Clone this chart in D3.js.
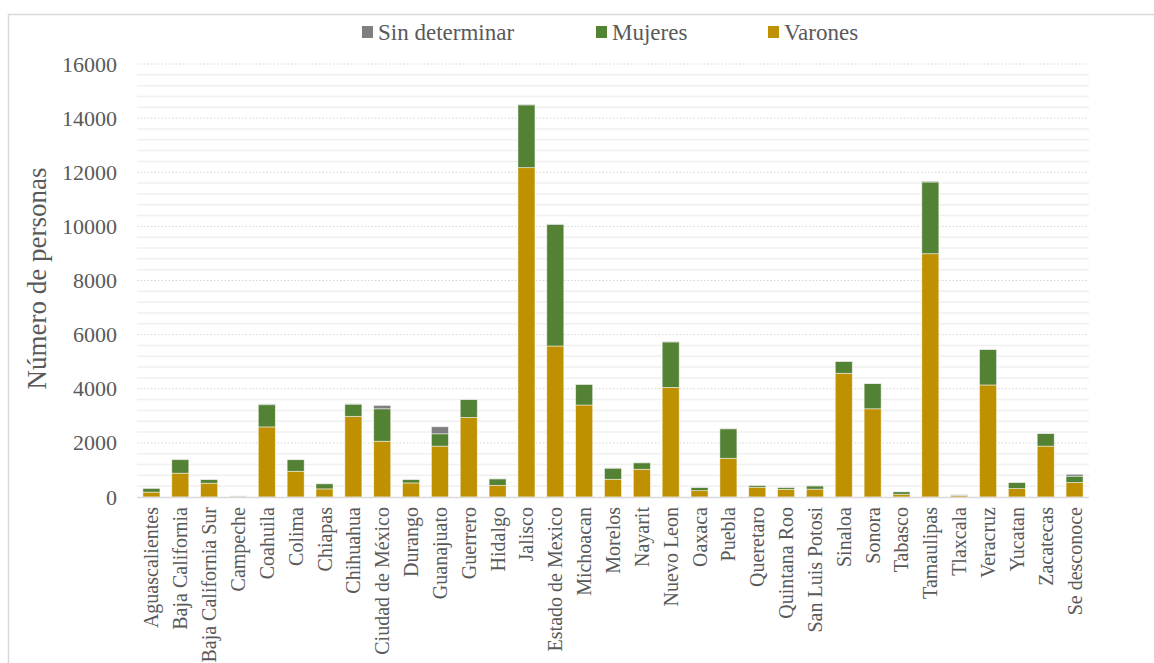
<!DOCTYPE html>
<html>
<head>
<meta charset="utf-8">
<style>
  body { margin: 0; background: #fff; }
  svg text { font-family: 'Liberation Serif', serif !important; fill: #595959; }
</style>
</head>
<body>
<svg width="1154" height="663" font-family="Liberation Serif"></svg>
<script src="https://cdn.jsdelivr.net/npm/d3@7"></script>
<script>

	// Data.
	var estados = ["Aguascalientes", "Baja California", "Baja California Sur", "Campeche", "Coahuila",
		"Colima", "Chiapas", "Chihuahua", "Ciudad de México", "Durango", "Guanajuato", "Guerrero",
		"Hidalgo", "Jalisco", "Estado de Mexico", "Michoacan", "Morelos", "Nayarit", "Nuevo Leon",
		"Oaxaca", "Puebla", "Queretaro", "Quintana Roo", "San Luis Potosi", "Sinaloa", "Sonora",
		"Tabasco", "Tamaulipas", "Tlaxcala", "Veracruz", "Yucatan", "Zacatecas", "Se desconoce"];

	var varones = [180, 880, 510, 25, 2590, 950, 300, 2980, 2060, 520, 1880, 2940,
		430, 12170, 5580, 3400, 655, 1025, 4050, 235, 1430, 360, 285, 290,
		4570, 3260, 100, 8990, 50, 4140, 310, 1880, 535];

	var mujeres = [140, 500, 140, 10, 820, 430, 190, 450, 1200, 130, 455, 660,
		240, 2320, 4490, 760, 410, 240, 1680, 120, 1090, 70, 70, 120,
		440, 930, 95, 2650, 30, 1310, 230, 465, 235];

	var sinDeterminar = [10, 20, 5, 5, 30, 10, 5, 15, 125, 5, 260, 10,
		10, 20, 20, 10, 10, 10, 10, 5, 15, 5, 5, 10,
		10, 10, 5, 30, 10, 10, 5, 5, 70];

	var yTicks = [0, 2000, 4000, 6000, 8000, 10000, 12000, 14000, 16000];

	var series = [
		{key: "varones", name: "Varones", color: "#bf9000", values: varones},
		{key: "mujeres", name: "Mujeres", color: "#548235", values: mujeres},
		{key: "sin", name: "Sin determinar", color: "#7f7f7f", values: sinDeterminar}
	];

	// Set up svg.
	var svg = d3.select("svg"),
		margin = {top: 64, left: 137, right: 65, bottom: 166},
		width = +svg.attr("width") - margin.left - margin.right,
		height = +svg.attr("height") - margin.top - margin.bottom;

	// Outer frame of the chart area.
	svg.append("rect")
		.attr("x", 8.5).attr("y", 14.5)
		.attr("width", 1160).attr("height", 660)
		.attr("fill", "none")
		.attr("stroke", "#d9d9d9")
		.attr("stroke-width", 1.5);

	var g = svg.append("g").attr("transform", "translate(" + margin.left + "," + margin.top + ")");

	var x = d3.scaleBand()
		.domain(estados)
		.range([0, width])
		.paddingInner(0.41)
		.paddingOuter(0.205);

	var y = d3.scaleLinear()
		.domain([0, 16000])
		.range([height, 0]);

	// Minor gridlines every 400, major (dotted) every 2000.
	var minor = d3.range(400, 16000, 400).filter(function(v) { return v % 2000 != 0; });
	g.selectAll(".minor")
		.data(minor)
		.enter().append("line")
			.attr("x1", 0).attr("x2", width)
			.attr("y1", function(d) { return y(d); })
			.attr("y2", function(d) { return y(d); })
			.attr("stroke", "#f0f0f0")
			.attr("stroke-width", 1.5);

	g.selectAll(".major")
		.data(yTicks.slice(1))
		.enter().append("line")
			.attr("x1", 0).attr("x2", width)
			.attr("y1", function(d) { return y(d); })
			.attr("y2", function(d) { return y(d); })
			.attr("stroke", "#d4d4d4")
			.attr("stroke-width", 1)
			.attr("stroke-dasharray", "1.5,2");

	// Stacked bars.
	var stackData = estados.map(function(e, i) {
		return {estado: e, varones: varones[i], mujeres: mujeres[i], sin: sinDeterminar[i]};
	});
	var stacked = d3.stack().keys(series.map(function(s) { return s.key; }))(stackData);

	g.selectAll(".serie")
		.data(stacked)
		.enter().append("g")
			.attr("fill", function(d, i) { return series[i].color; })
		.selectAll("rect")
		.data(function(d) { return d; })
		.enter().append("rect")
			.attr("x", function(d) { return x(d.data.estado); })
			.attr("y", function(d) { return y(d[1]); })
			.attr("width", x.bandwidth())
			.attr("height", function(d) { return y(d[0]) - y(d[1]); })
			.attr("stroke", "#ffffff")
			.attr("stroke-opacity", 0.6)
			.attr("stroke-width", 0.8);

	// Baseline.
	g.append("line")
		.attr("x1", 0).attr("x2", width)
		.attr("y1", height + 0.5).attr("y2", height + 0.5)
		.attr("stroke", "#d9d9d9")
		.attr("stroke-width", 1.5);

	// Y axis.
	var yAxis = g.append("g")
		.attr("transform", "translate(-20,0)")
		.call(d3.axisLeft(y).tickValues(yTicks).tickFormat(d3.format("d")).tickSize(0).tickPadding(0));
	yAxis.attr("font-family", null);
	yAxis.select(".domain").remove();
	yAxis.selectAll("text")
		.style("font-size", "22px")
		.attr("fill", "#595959");

	// X axis with vertical labels.
	var xAxis = g.append("g")
		.attr("transform", "translate(0," + height + ")")
		.call(d3.axisBottom(x).tickSize(0).tickPadding(0));
	xAxis.attr("font-family", null);
	xAxis.select(".domain").remove();
	xAxis.selectAll("text")
		.attr("transform", "rotate(-90)")
		.attr("x", -10)
		.attr("y", 0)
		.attr("dy", "0.35em")
		.style("text-anchor", "end")
		.style("font-size", "20px")
		.attr("fill", "#595959");

	// Y axis title.
	svg.append("text")
		.attr("transform", "translate(46," + (margin.top + height / 2 - 2) + ") rotate(-90)")
		.attr("text-anchor", "middle")
		.style("font-size", "27px")
		.text("Número de personas");

	// Legend.
	var legendItems = [series[2], series[1], series[0]];
	var legendX = [362, 596, 768];
	var legend = svg.selectAll(".legend")
		.data(legendItems)
		.enter().append("g")
			.attr("transform", function(d, i) { return "translate(" + legendX[i] + ",26)"; });
	legend.append("rect")
		.attr("width", 11).attr("height", 12)
		.attr("fill", function(d) { return d.color; });
	legend.append("text")
		.attr("x", 16).attr("y", 6)
		.attr("dy", "0.35em")
		.style("font-size", "23px")
		.text(function(d) { return d.name; });

</script>
</body>
</html>
